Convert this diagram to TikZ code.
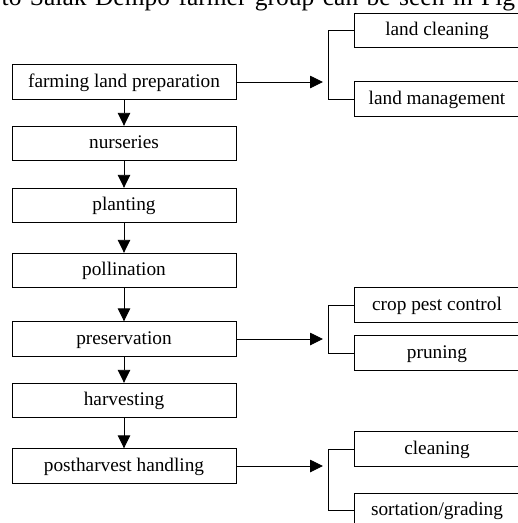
\documentclass[tikz,border=0pt]{standalone}
\usepackage{fontspec}
\setmainfont{Liberation Serif}
\usetikzlibrary{arrows.meta}
\begin{document}
\begin{tikzpicture}[x=1pt,y=-1pt,
  lbox/.style={draw, line width=0.9pt, minimum width=224pt, minimum height=34.5pt, inner sep=0pt,
    text height=13.5pt, text depth=3.5pt, font=\fontsize{19.3pt}{23pt}\selectfont},
  rbox/.style={lbox, minimum width=166pt},
  arr/.style={line width=0.9pt, -{Triangle[length=13pt,width=12.5pt]}},
  ln/.style={line width=0.9pt}]
\useasboundingbox (0,0) rectangle (518,523);
\clip (0,0) rectangle (518,523);
\node[anchor=base west, inner sep=0pt, font=\fontsize{25.5pt}{30pt}\selectfont] (cap) at (1.5,5.5)
  {\makebox[513.5pt][s]{to Salak Dempo farmer group can be seen in Fig}};
% main column
\node[lbox] (n1) at (124,82) {farming land preparation};
\node[lbox] (n2) at (124,143.5) {nurseries};
\node[lbox] (n3) at (124,205.5) {planting};
\node[lbox] (n4) at (124,270.5) {pollination};
\node[lbox] (n5) at (124,339) {preservation};
\node[lbox] (n6) at (124,400.5) {harvesting};
\node[lbox] (n7) at (124,466) {postharvest handling};
% right column
\node[rbox] (r1) at (437,30.5) {land cleaning};
\node[rbox] (r2) at (437,99) {land management};
\node[rbox] (r3) at (437,305) {crop pest control};
\node[rbox] (r4) at (437,353) {pruning};
\node[rbox] (r5) at (437,449) {cleaning};
\node[rbox] (r6) at (437,510.5) {sortation/grading};
% arrow tips
\coordinate (a1) at (323,82);
\coordinate (a2) at (323,339);
\coordinate (a3) at (323,466);
% vertical arrows
\draw[arr] (n1) -- (n2);
\draw[arr] (n2) -- (n3);
\draw[arr] (n3) -- (n4);
\draw[arr] (n4) -- (n5);
\draw[arr] (n5) -- (n6);
\draw[arr] (n6) -- (n7);
% horizontal arrows
\draw[arr] (n1.east) -- (a1);
\draw[arr] (n5.east) -- (a2);
\draw[arr] (n7.east) -- (a3);
% brackets
\draw[ln] (r1.west) -- ++(-25,0) |- (r2.west);
\draw[ln] (r3.west) -- ++(-25,0) |- (r4.west);
\draw[ln] (r5.west) -- ++(-25,0) |- (r6.west);
\end{tikzpicture}
\end{document}
